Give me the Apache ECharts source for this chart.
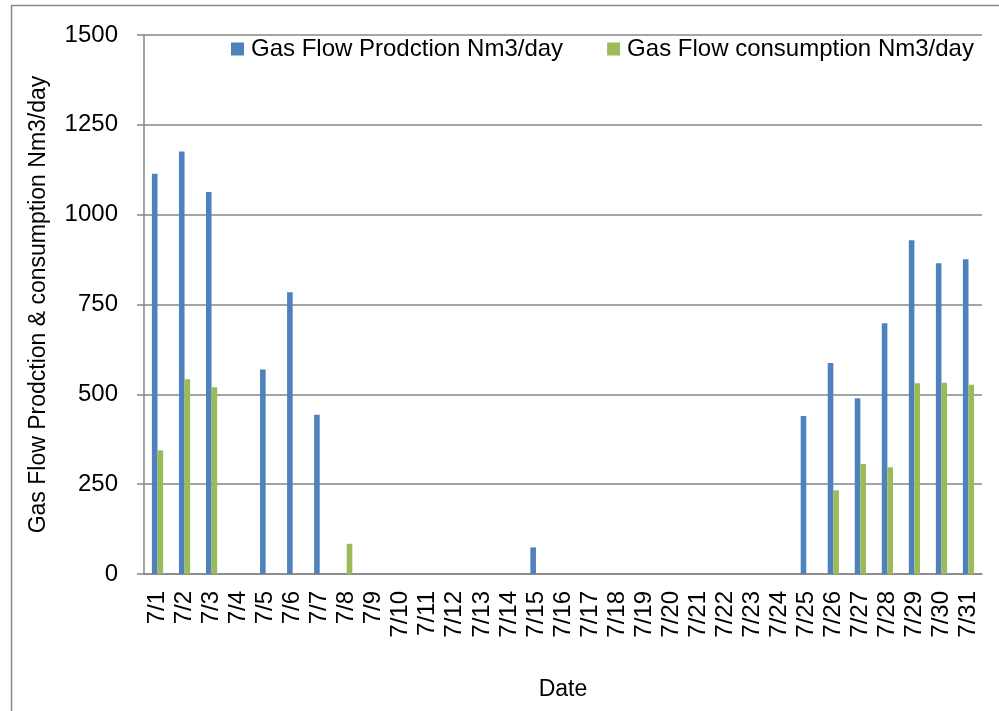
<!DOCTYPE html>
<html>
<head>
<meta charset="utf-8">
<script src="https://cdn.jsdelivr.net/npm/echarts@6/dist/echarts.min.js"></script>
<style>html,body{margin:0;padding:0;background:#fff;}#c{width:999px;height:711px;}</style>
</head>
<body>
<div id="c"></div>
<script>
const categories = ['7/1','7/2','7/3','7/4','7/5','7/6','7/7','7/8','7/9','7/10','7/11','7/12','7/13','7/14','7/15','7/16','7/17','7/18','7/19','7/20','7/21','7/22','7/23','7/24','7/25','7/26','7/27','7/28','7/29','7/30','7/31'];
const production = [1114,1176,1063,0,569,784,443,0,0,0,0,0,0,0,74,0,0,0,0,0,0,0,0,0,440,587,489,698,929,865,876];
const consumption = [344,542,520,0,0,0,0,84,0,0,0,0,0,0,0,0,0,0,0,0,0,0,0,0,0,233,306,297,531,532,527];
const yTicks = [0,250,500,750,1000,1250,1500];
const seriesNames = ['Gas Flow Prodction Nm3/day','Gas Flow consumption Nm3/day'];

const FONT = '"Liberation Sans", Arial, sans-serif';
const chart = echarts.init(document.getElementById('c'), null, {renderer:'canvas'});
chart.setOption({
  animation:false,
  backgroundColor:'#fff',
  textStyle:{fontFamily:FONT,color:'#000'},
  graphic:[{type:'rect',left:9,top:3,shape:{width:1100,height:800},style:{fill:'none',stroke:'#8a8a8a',lineWidth:1.5},silent:true}],
  legend:{
    left:226, top:32, itemWidth:13, itemHeight:13, itemGap:44,
    icon:'rect',
    textStyle:{fontFamily:FONT,fontSize:24,color:'#000',padding:[0,0,0,2]},
    data:seriesNames
  },
  grid:{left:144,right:17,top:35,bottom:137,containLabel:false},
  xAxis:{
    type:'category', data:categories,
    name:'Date', nameLocation:'middle', nameGap:104,
    nameTextStyle:{fontFamily:FONT,fontSize:23,color:'#000'},
    axisLine:{lineStyle:{color:'#868686',width:1.5}},
    axisTick:{show:false},
    axisLabel:{rotate:90,interval:0,margin:17,fontFamily:FONT,fontSize:24,color:'#000'}
  },
  yAxis:{
    type:'value', min:0, max:1500, interval:250,
    name:'Gas Flow Prodction & consumption Nm3/day', nameLocation:'middle', nameGap:94,
    nameTextStyle:{fontFamily:FONT,fontSize:23,color:'#000'},
    axisLine:{show:true,lineStyle:{color:'#868686',width:1.5}},
    axisTick:{show:true,length:7,lineStyle:{color:'#868686',width:1.5}},
    splitLine:{lineStyle:{color:'#868686',width:1.5}},
    axisLabel:{margin:26,fontFamily:FONT,fontSize:24,color:'#000',
      formatter:function(v){return yTicks.indexOf(v)>=0?String(v):'';}}
  },
  series:[
    {name:seriesNames[0],type:'bar',data:production,barWidth:5.6,barGap:'0%',
     itemStyle:{color:'#4F81BD'}},
    {name:seriesNames[1],type:'bar',data:consumption,barWidth:5.6,barGap:'0%',
     itemStyle:{color:'#9BBB59'}}
  ]
});
</script>
</body>
</html>
